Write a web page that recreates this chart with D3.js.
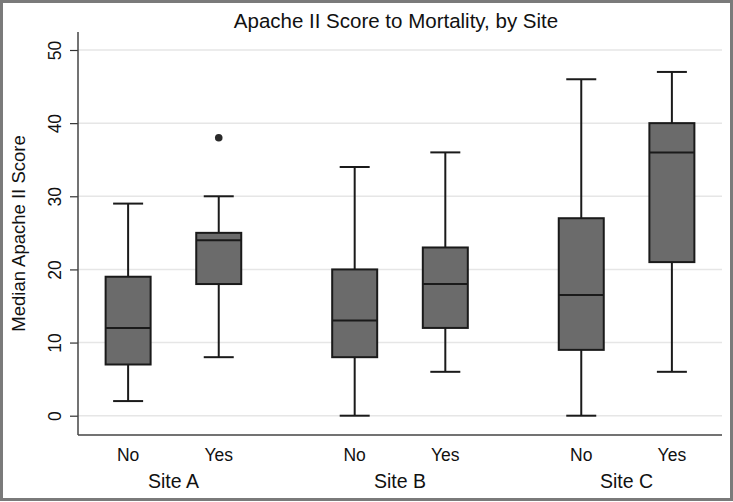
<!DOCTYPE html>
<html>
<head>
<meta charset="utf-8">
<script src="https://cdn.jsdelivr.net/npm/d3@7"></script>
<style>
  html, body { margin: 0; padding: 0; background: #fff; }
  svg { display: block; }
  text { font-family: "Liberation Sans", Arial, Helvetica, sans-serif; fill: #111; }
</style>
</head>
<body>
<svg id="chart" width="733" height="502"></svg>
<script>
// ---- data ----
const sites = ["Site A", "Site B", "Site C"];
const outcomes = ["No", "Yes"];
const boxLabels = ["No", "Yes", "No", "Yes", "No", "Yes"];
const boxSite = ["Site A", "Site A", "Site B", "Site B", "Site C", "Site C"];
const whiskerLow = [2, 8, 0, 6, 0, 6];
const q1 = [7, 18, 8, 12, 9, 21];
const median = [12, 24, 13, 18, 16.5, 36];
const q3 = [19, 25, 20, 23, 27, 40];
const whiskerHigh = [29, 30, 34, 36, 46, 47];
const outlierBox = [1];
const outlierValue = [38];
const yTicks = [0, 10, 20, 30, 40, 50];

(function () {
// ---- layout ----
const svg = d3.select("#chart");
const W = 733, H = 502;
const pl = 78, pr = 722, pt = 32, pb = 435;

// positions: boxes within a site 1 unit apart, sites separated by 1.5 units
const pos = boxLabels.map((d, i) => Math.floor(i / 2) * 2.5 + (i % 2));
const x = d3.scaleLinear().domain([-0.553, 6.553]).range([pl, pr]);
const y = d3.scaleLinear().domain([0, 50]).range([415.7, 50]);

// outer frame
svg.append("rect").attr("x", 1.5).attr("y", 1.5).attr("width", W - 3).attr("height", H - 4)
  .attr("fill", "none").attr("stroke", "#7a7a7a").attr("stroke-width", 3);

// gridlines
svg.append("g").selectAll("line").data(yTicks).join("line")
  .attr("x1", pl).attr("x2", pr)
  .attr("y1", d => y(d)).attr("y2", d => y(d))
  .attr("stroke", "#e6e6e6").attr("stroke-width", 1.5);

// y axis
const yAxis = d3.axisLeft(y).tickValues(yTicks).tickSize(8).tickPadding(0).tickFormat(d3.format("d"));
const gy = svg.append("g").attr("transform", `translate(${pl},0)`).call(yAxis);
gy.select(".domain").remove();
gy.selectAll(".tick line").attr("stroke", "#333").attr("stroke-width", 1.2);
gy.selectAll(".tick text")
  .attr("x", null).attr("dy", null)
  .attr("transform", "translate(-23,0) rotate(-90)")
  .attr("text-anchor", "middle").attr("dominant-baseline", "central")
  .attr("font-size", 17.5).attr("fill", "#111")
  .style("font-family", "'Liberation Sans', Arial, sans-serif");
svg.append("line").attr("x1", pl).attr("x2", pl).attr("y1", pt).attr("y2", pb)
  .attr("stroke", "#444").attr("stroke-width", 1.5);
// x axis line
svg.append("line").attr("x1", pl).attr("x2", pr).attr("y1", pb).attr("y2", pb)
  .attr("stroke", "#444").attr("stroke-width", 1.5);

// boxes
const boxW = 45, capW = 30;
const g = svg.append("g");
const idx = d3.range(boxLabels.length);
const stroke = "#1a1a1a";
// whiskers
g.selectAll(".wlo").data(idx).join("line")
  .attr("x1", i => x(pos[i])).attr("x2", i => x(pos[i]))
  .attr("y1", i => y(whiskerLow[i])).attr("y2", i => y(q1[i]))
  .attr("stroke", stroke).attr("stroke-width", 2);
g.selectAll(".whi").data(idx).join("line")
  .attr("x1", i => x(pos[i])).attr("x2", i => x(pos[i]))
  .attr("y1", i => y(whiskerHigh[i])).attr("y2", i => y(q3[i]))
  .attr("stroke", stroke).attr("stroke-width", 2);
g.selectAll(".caplo").data(idx).join("line")
  .attr("x1", i => x(pos[i]) - capW / 2).attr("x2", i => x(pos[i]) + capW / 2)
  .attr("y1", i => y(whiskerLow[i])).attr("y2", i => y(whiskerLow[i]))
  .attr("stroke", stroke).attr("stroke-width", 2);
g.selectAll(".caphi").data(idx).join("line")
  .attr("x1", i => x(pos[i]) - capW / 2).attr("x2", i => x(pos[i]) + capW / 2)
  .attr("y1", i => y(whiskerHigh[i])).attr("y2", i => y(whiskerHigh[i]))
  .attr("stroke", stroke).attr("stroke-width", 2);
// boxes
g.selectAll(".box").data(idx).join("rect")
  .attr("x", i => x(pos[i]) - boxW / 2).attr("width", boxW)
  .attr("y", i => y(q3[i])).attr("height", i => y(q1[i]) - y(q3[i]))
  .attr("fill", "#6b6b6b").attr("stroke", stroke).attr("stroke-width", 2);
g.selectAll(".med").data(idx).join("line")
  .attr("x1", i => x(pos[i]) - boxW / 2).attr("x2", i => x(pos[i]) + boxW / 2)
  .attr("y1", i => y(median[i])).attr("y2", i => y(median[i]))
  .attr("stroke", stroke).attr("stroke-width", 2);
// outliers
g.selectAll(".out").data(outlierValue).join("circle")
  .attr("cx", (d, k) => x(pos[outlierBox[k]])).attr("cy", d => y(d))
  .attr("r", 3.8).attr("fill", "#2a2a2a");

// x labels
svg.append("g").selectAll("text").data(idx).join("text")
  .attr("x", i => x(pos[i])).attr("y", 460.5)
  .attr("text-anchor", "middle").attr("font-size", 17.5)
  .text(i => boxLabels[i]);
svg.append("g").selectAll("text").data(sites).join("text")
  .attr("x", (d, k) => x(k * 2.5 + 0.5)).attr("y", 488)
  .attr("text-anchor", "middle").attr("font-size", 19.5)
  .text(d => d);

// title
svg.append("text").attr("x", (pl + pr) / 2 - 4).attr("y", 27.5)
  .attr("text-anchor", "middle").attr("font-size", 20.5)
  .text("Apache II Score to Mortality, by Site");

// y title
svg.append("text")
  .attr("transform", `translate(25,${(pt + pb) / 2}) rotate(-90)`)
  .attr("text-anchor", "middle").attr("font-size", 18.5)
  .text("Median Apache II Score");
})();
</script>
</body>
</html>
